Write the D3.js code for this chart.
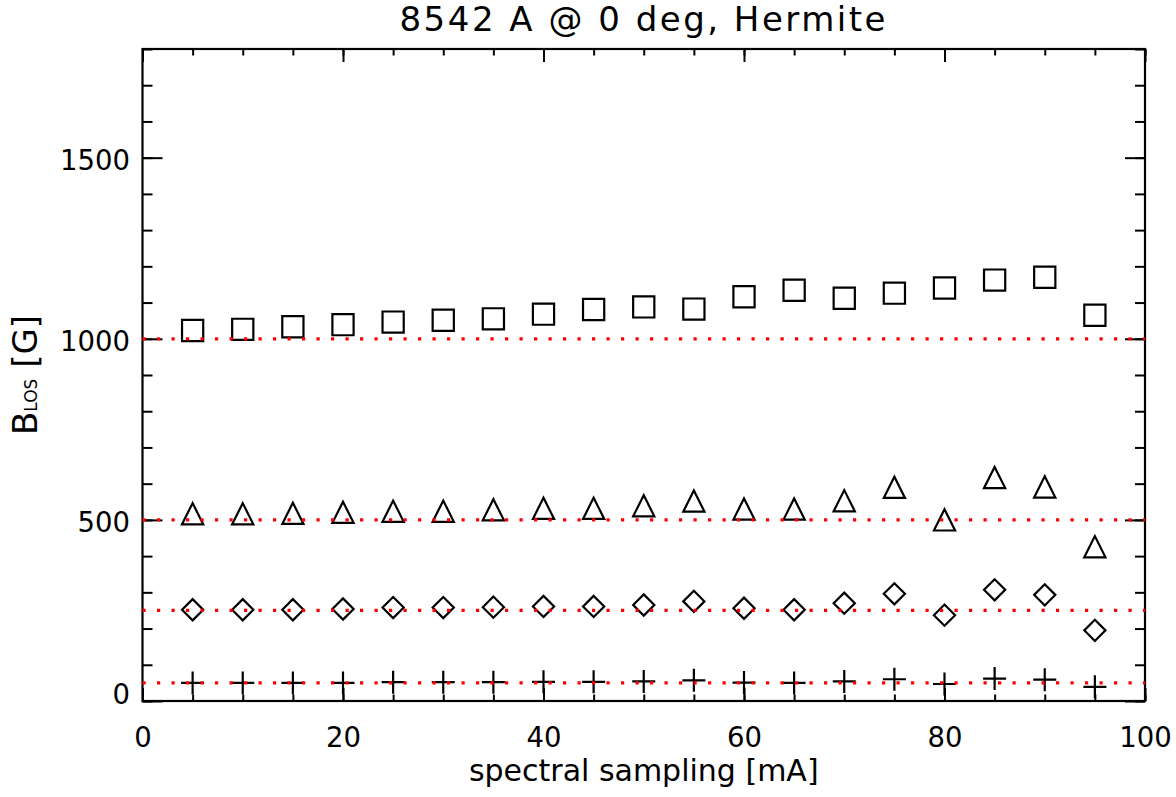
<!DOCTYPE html>
<meta charset="utf-8">
<script src="https://cdn.jsdelivr.net/npm/d3@7"></script>
<style>
body { margin: 0; background: #fff; }
text { font-family: "DejaVu Sans", sans-serif; fill: #000; }
.axis text { font-size: 27.5px; }
.axis line { stroke: #000; stroke-width: 2; }
</style>
<body>
<script>

// values
var sampling = [5, 10, 15, 20, 25, 30, 35, 40, 45, 50, 55, 60, 65, 70, 75, 80, 85, 90, 95]
var squares = [1023, 1026, 1033, 1039, 1046, 1051, 1055, 1068, 1081, 1088, 1082, 1116, 1134, 1112, 1126, 1140, 1162, 1170, 1065]
var triangles = [517, 517, 518, 521, 524, 524, 528, 532, 532, 539, 552, 530, 530, 553, 590, 500, 617, 591, 426]
var diamonds = [252, 252, 252, 254, 258, 258, 259, 261, 261, 265, 275, 256, 252, 270, 296, 237, 307, 293, 195]
var pluses = [50, 50, 50, 50, 52, 52, 52, 53, 53, 54, 57, 51, 50, 54, 60, 47, 62, 59, 39]
var reference = [1000, 500, 250, 50]
var xTicks = [0, 20, 40, 60, 80, 100]
var yTicks = [0, 500, 1000, 1500]

// set the dimensions of the graph
var width = 1176
var height = 797
var pLeft = 142.5, pRight = 1145, pTop = 49, pBottom = 701

var x = d3.scaleLinear().domain([0, 100]).range([pLeft, pRight]);
var y = d3.scaleLinear().domain([0, 1800]).range([pBottom, pTop]);

var svg = d3.select("body").append("svg")
            .attr("width", width)
            .attr("height", height);

// ticks on all four sides, pointing inwards
function axis(g) { g.attr("class", "axis").select(".domain").remove(); }

svg.append("g").attr("transform", "translate(0," + pBottom + ")")
   .call(d3.axisBottom(x).tickValues(xTicks).tickSize(-13).tickPadding(26).tickFormat(d3.format("d"))).call(axis);
svg.append("g").attr("transform", "translate(0," + pBottom + ")")
   .call(d3.axisBottom(x).tickValues(d3.range(0, 101, 5)).tickSize(-6.5).tickFormat("")).call(axis);
svg.append("g").attr("transform", "translate(0," + pTop + ")")
   .call(d3.axisTop(x).tickValues(xTicks).tickSize(-13).tickFormat("")).call(axis);
svg.append("g").attr("transform", "translate(0," + pTop + ")")
   .call(d3.axisTop(x).tickValues(d3.range(0, 101, 5)).tickSize(-6.5).tickFormat("")).call(axis);

var yAxis = svg.append("g").attr("transform", "translate(" + pLeft + ",0)")
   .call(d3.axisLeft(y).tickValues(yTicks).tickSize(-20).tickPadding(12.5).tickFormat(d3.format("d"))).call(axis);
// the zero label sits a little above the corner
yAxis.selectAll("text").attr("dy", function(d) { return d === 0 ? "0.1em" : "0.42em"; });
svg.append("g").attr("transform", "translate(" + pLeft + ",0)")
   .call(d3.axisLeft(y).tickValues(d3.range(0, 1801, 100)).tickSize(-10).tickFormat("")).call(axis);
svg.append("g").attr("transform", "translate(" + pRight + ",0)")
   .call(d3.axisRight(y).tickValues(yTicks).tickSize(-20).tickFormat("")).call(axis);
svg.append("g").attr("transform", "translate(" + pRight + ",0)")
   .call(d3.axisRight(y).tickValues(d3.range(0, 1801, 100)).tickSize(-10).tickFormat("")).call(axis);

// frame
svg.append("rect")
   .attr("x", pLeft).attr("y", pTop)
   .attr("width", pRight - pLeft).attr("height", pBottom - pTop)
   .attr("fill", "none").attr("stroke", "#000").attr("stroke-width", 2.2);

// IDL style symbols
var h = 10.6
var shapes = {
  square: "M" + (-h) + "," + (-h) + "H" + h + "V" + h + "H" + (-h) + "Z",
  triangle: "M" + (-h) + "," + h + "L0," + (-h) + "L" + h + "," + h + "Z",
  diamond: "M" + (-h) + ",0L0," + (-h) + "L" + h + ",0L0," + h + "Z",
  plus: "M" + (-11.5) + ",0H11.5M0," + (-11.5) + "V11.5"
}

function plot(values, shape) {
  svg.append("g").selectAll("path")
     .data(values)
     .enter().append("path")
     .attr("transform", function(d, i) { return "translate(" + x(sampling[i]) + "," + y(d) + ")"; })
     .attr("d", shapes[shape])
     .attr("fill", "none")
     .attr("stroke", "#000")
     .attr("stroke-width", 2.2);
}
plot(squares, "square")
plot(triangles, "triangle")
plot(diamonds, "diamond")
plot(pluses, "plus")

// red dotted reference levels
svg.append("g").selectAll("line")
   .data(reference)
   .enter().append("line")
   .attr("x1", x(0)).attr("x2", x(100))
   .attr("y1", function(d) { return y(d); })
   .attr("y2", function(d) { return y(d); })
   .attr("stroke", "#ff0000")
   .attr("stroke-width", 3.2)
   .attr("stroke-dasharray", "3.2 11.3");

// titles
svg.append("text")
   .attr("x", (pLeft + pRight) / 2).attr("y", 31)
   .attr("text-anchor", "middle")
   .style("font-size", "34px")
   .style("letter-spacing", "2.5px")
   .text("8542 A @ 0 deg, Hermite");

svg.append("text")
   .attr("x", (pLeft + pRight) / 2).attr("y", 781)
   .attr("text-anchor", "middle")
   .style("font-size", "30px")
   .text("spectral sampling [mA]");

var ylab = svg.append("text")
   .attr("transform", "translate(37," + ((pTop + pBottom) / 2) + ") rotate(-90)")
   .attr("text-anchor", "middle")
   .style("font-size", "34px");
ylab.append("tspan").text("B");
ylab.append("tspan").style("font-size", "17px").text("LOS");
ylab.append("tspan").text(" [G]");

</script>
</body>
